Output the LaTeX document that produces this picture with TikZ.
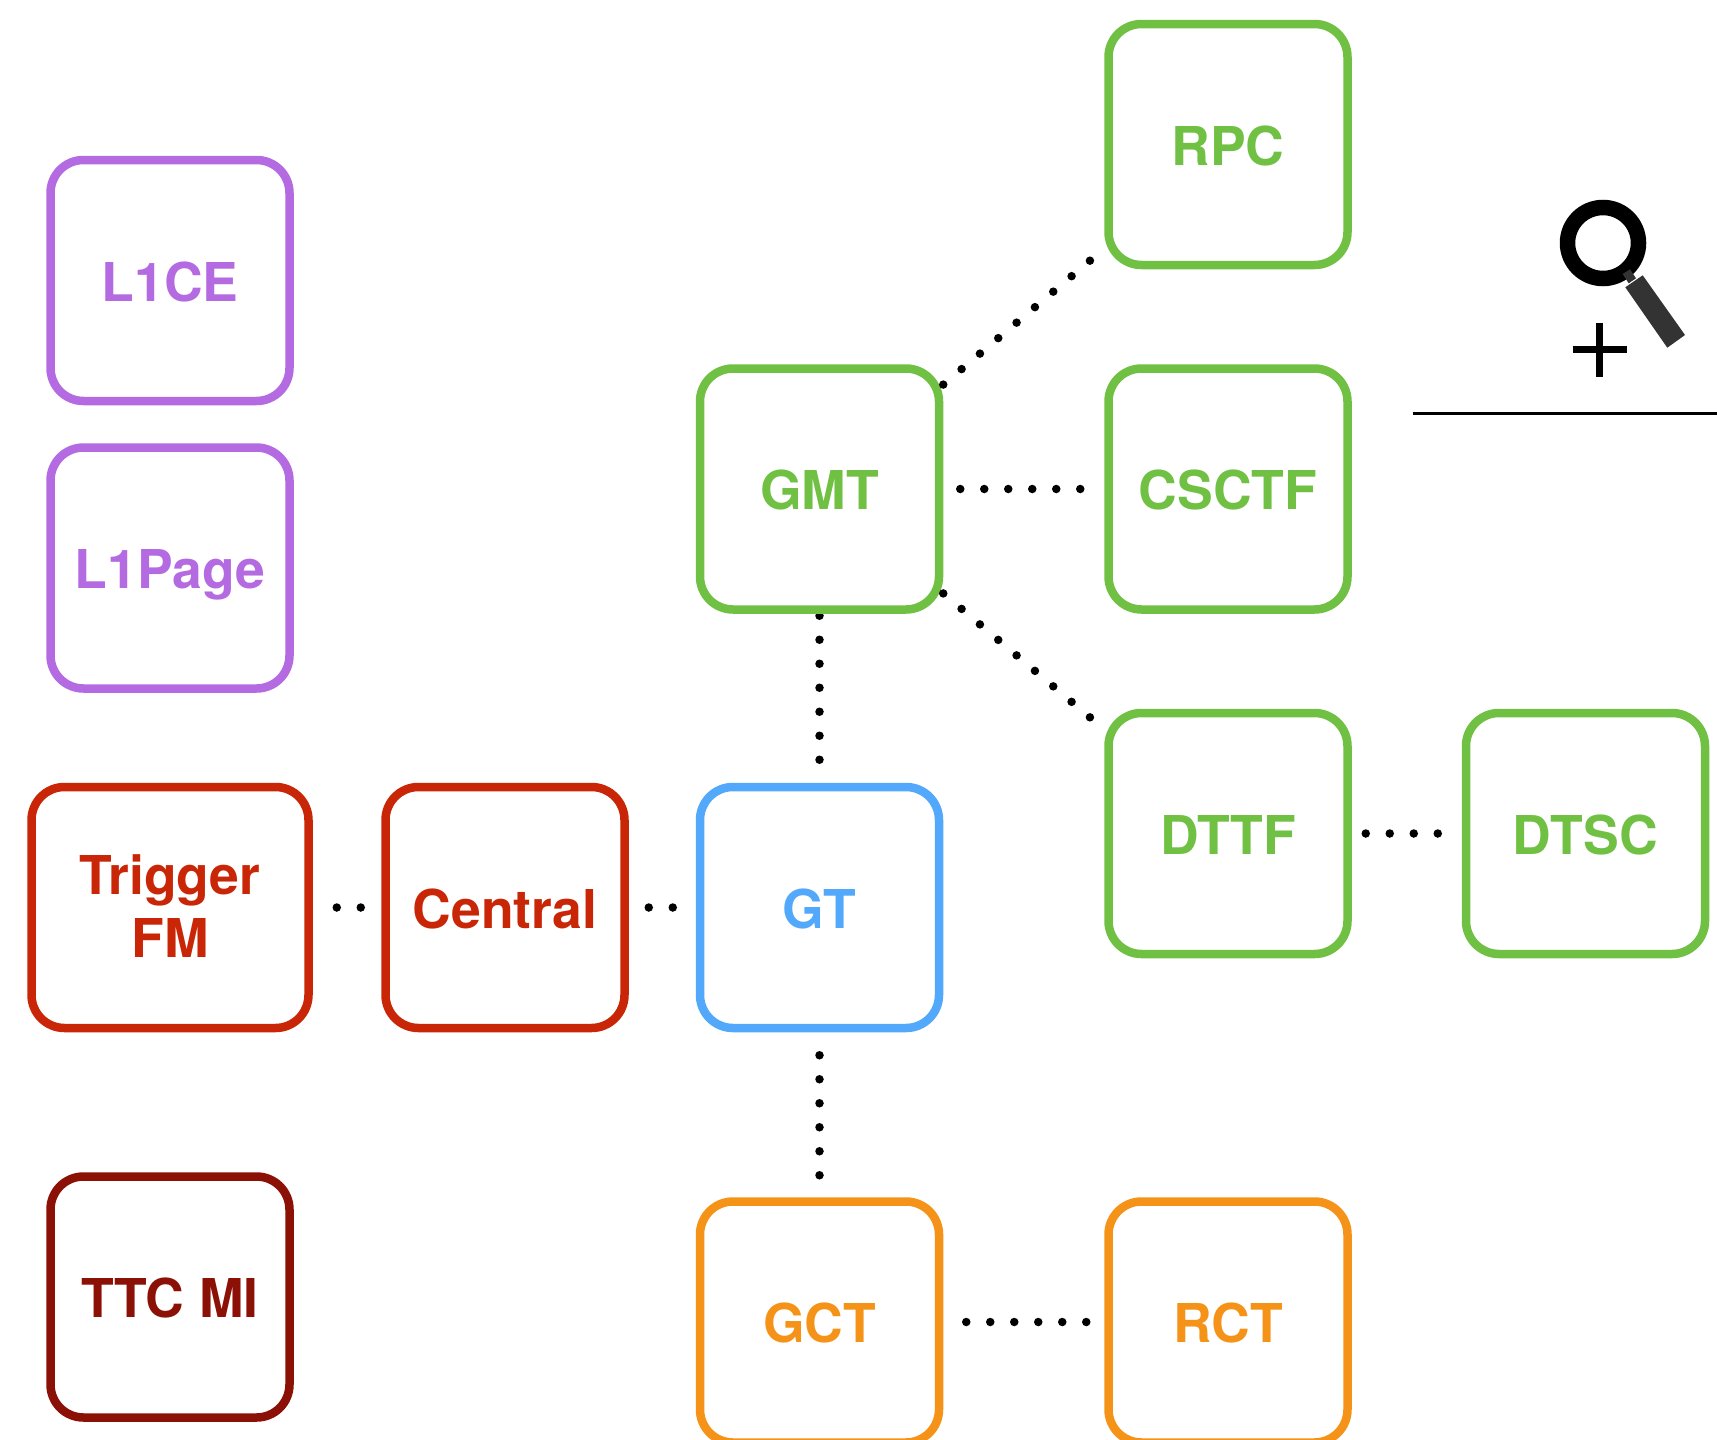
\documentclass[tikz,border=0pt]{standalone}
\usepackage{fontspec}
\setmainfont{TeX Gyre Heros}
\usetikzlibrary{positioning,backgrounds}

\definecolor{trigreen}{HTML}{70C043}
\definecolor{tripurple}{HTML}{B46AE0}
\definecolor{trired}{HTML}{C92607}
\definecolor{triblue}{HTML}{52A8FA}
\definecolor{triorange}{HTML}{F59319}
\definecolor{tridark}{HTML}{8B1005}

\begin{document}
\begin{tikzpicture}[
    x=1pt, y=-1pt,
    box/.style={draw, line width=8.5pt, rounded corners=33pt, minimum width=239pt, minimum height=241pt, inner sep=0pt, text centered, text height=41.5pt, text depth=0pt, font=\bfseries\fontsize{53.5}{62.5}\selectfont},
    greenbox/.style={box, draw=trigreen, text=trigreen},
    purplebox/.style={box, draw=tripurple, text=tripurple},
    redbox/.style={box, draw=trired, text=trired},
    bluebox/.style={box, draw=triblue, text=triblue},
    orangebox/.style={box, draw=triorange, text=triorange},
    darkbox/.style={box, draw=tridark, text=tridark},
    dotline/.style={line width=8.5pt, line cap=round, dash pattern=on 0pt off 24pt, shorten >=6pt}
]

\useasboundingbox (0,0) rectangle (1717,1440);

\node (gmt) [greenbox] at (819.5,489) {GMT};
\node (csctf) [greenbox, right=161pt of gmt] {CSCTF};
\node (rpc) [greenbox, above=95pt of csctf] {RPC};
\node (dttf) [greenbox, below=95pt of csctf] {DTTF};
\node (dtsc) [greenbox, right=110pt of dttf] {DTSC};
\node (gt) [bluebox, below=169pt of gmt] {GT};
\node (gct) [orangebox, below=165pt of gt] {GCT};
\node (rct) [orangebox, right=161pt of gct] {RCT};
\node (central) [redbox, left=67pt of gt] {Central};
\node (trigger) [redbox, left=68.5pt of central, minimum width=277pt, align=center, text height=, text depth=3pt] {Trigger\\FM};
\node (page) [purplebox, above=90pt of trigger] {L1Page};
\node (ce) [purplebox, above=38pt of page] {L1CE};
\node (ttc) [darkbox, below=140pt of trigger] {TTC MI};

\begin{scope}[on background layer]
\draw [dotline, shorten <=2pt] (gmt) -- (gt);
\end{scope}
\draw [dotline] (gmt) -- (rpc);
\draw [dotline, shorten <=17pt] (gmt) -- (csctf);
\draw [dotline] (gmt) -- (dttf);
\draw [dotline, shorten <=14pt] (dttf) -- (dtsc);
\draw [dotline, shorten <=24pt] (trigger) -- (central);
\draw [dotline, shorten <=20pt] (central) -- (gt);
\draw [dotline, shorten <=23pt] (gt) -- (gct);
\draw [dotline, shorten <=23pt] (gct) -- (rct);

\draw [line width=15.5pt] (1603,243) circle (35.5);
\fill [black!80] (1625.3,287.3) -- (1642.7,275.3) -- (1685,335) -- (1667.3,347.7) -- cycle;
\fill [black!80] (1622.7,274) -- (1630,269.3) -- (1636,278.3) -- (1628.7,283.3) -- cycle;
\draw [line width=6.7pt] (1599.3,322.7) -- (1599.3,376.7);
\draw [line width=6.7pt] (1572.7,349.7) -- (1626.7,349.7);
\draw [line width=3pt] (1412.7,413.3) -- (1717,413.3);

\end{tikzpicture}
\end{document}
